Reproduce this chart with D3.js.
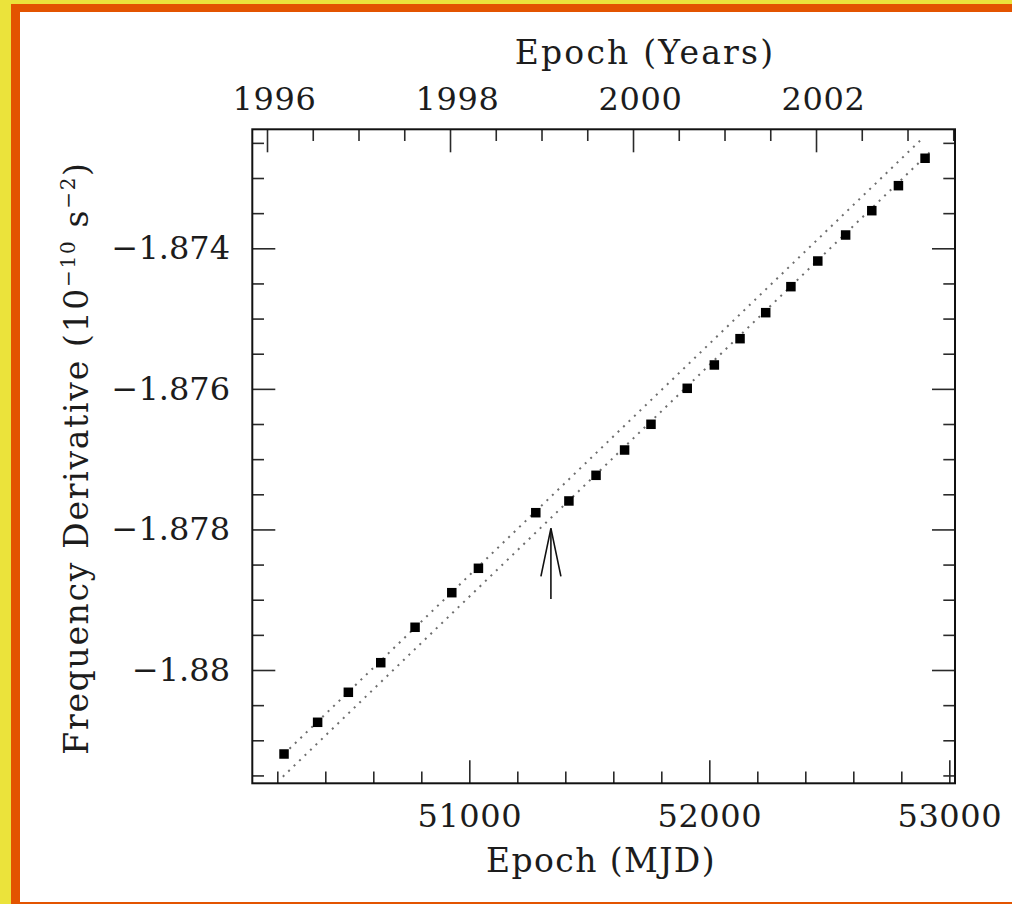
<!DOCTYPE html>
<html>
<head>
<meta charset="utf-8">
<script src="https://cdn.jsdelivr.net/npm/d3@7"></script>
<style>
  html, body { margin: 0; padding: 0; background: #ffffff; }
  svg { display: block; }
  text { font-family: "DejaVu Serif", "Liberation Serif", serif; fill: #1c1c1c; }
</style>
</head>
<body>
<script>
// Timing measurements of the frequency derivative, one per epoch (MJD)
const epochMJD = [50228, 50368, 50496, 50631, 50774, 50927, 51038, 51277, 51415, 51528, 51647,
                  51757, 51908, 52021, 52128, 52235, 52340, 52452, 52568, 52677, 52788, 52899];
const freqDeriv = [-1.881195, -1.880744, -1.880317, -1.879896, -1.879392, -1.878900, -1.878553,
                   -1.877762, -1.877595, -1.877230, -1.876870, -1.876504, -1.875992, -1.875660,
                   -1.875286, -1.874916, -1.874546, -1.874181, -1.873811, -1.873465, -1.873109,
                   -1.872719];

// Two parallel linear trends (before and after the step)
const upperLineMJD = [50228, 52878];
const upperLineVal = [-1.881195, -1.872469];
const lowerLineMJD = [50223, 52928];
const lowerLineVal = [-1.881518, -1.872602];

// Arrow marking the epoch of the step: tail value, tip value
const arrowMJD = 51340;
const arrowVal = [-1.878990, -1.877984];

// Axis ticks and labels
const mjdMajorTicks = [51000, 52000, 53000];
const mjdTickLabels = ["51000", "52000", "53000"];
const yearMajorTicks = [1996, 1998, 2000, 2002];
const yearTickLabels = ["1996", "1998", "2000", "2002"];
const yMajorTicks = [-1.874, -1.876, -1.878, -1.88];
const yTickLabels = ["\u22121.874", "\u22121.876", "\u22121.878", "\u22121.88"];

const W = 1012, H = 904;
const box = { left: 252.3, right: 955, top: 129.3, bottom: 783.3 };

const svg = d3.select("body").append("svg").attr("width", W).attr("height", H);

// Page frame: yellow outer, orange inner, white panel
svg.append("rect").attr("x", 0).attr("y", 0).attr("width", W).attr("height", H).attr("fill", "#ebe33b");
svg.append("rect").attr("x", 11).attr("y", 4).attr("width", W - 11).attr("height", H - 4).attr("fill", "#e35400");
svg.append("rect").attr("x", 20).attr("y", 12).attr("width", W - 20).attr("height", 890).attr("fill", "#ffffff");

// Scales
const x = d3.scaleLinear().domain([50095.8, 53023.7]).range([box.left, box.right]);
const xYear = d3.scaleLinear().domain([1995.8393, 2003.519]).range([box.left, box.right]);
const y = d3.scaleLinear().domain([-1.881612, -1.872307]).range([box.bottom, box.top]);

const majorLen = 23, minorLen = 11.7;
const tickColor = "#2a2a2a";

function styleTicks(g, width) {
  g.select(".domain").remove();
  g.selectAll(".tick line").attr("stroke", tickColor).attr("stroke-width", width);
}
function styleLabels(g) {
  g.selectAll(".tick text")
    .attr("font-size", 32).attr("fill", "#1c1c1c")
    .attr("font-family", '"DejaVu Serif", serif')
    .attr("letter-spacing", 0.6);
}

// Bottom axis (MJD)
const mjdMinor = d3.range(50200, 53001, 200).filter(v => !mjdMajorTicks.includes(v));
svg.append("g").attr("transform", `translate(0,${box.bottom})`)
  .call(d3.axisBottom(x).tickValues(mjdMinor).tickSize(-minorLen).tickFormat(""))
  .call(g => styleTicks(g, 1.6));
svg.append("g").attr("transform", `translate(0,${box.bottom})`)
  .call(d3.axisBottom(x).tickValues(mjdMajorTicks).tickSizeInner(-majorLen).tickSizeOuter(0)
        .tickPadding(21).tickFormat((d, i) => mjdTickLabels[i]))
  .call(g => { styleTicks(g, 1.6); styleLabels(g); });

// Top axis (calendar years)
const yearMinor = d3.range(1996, 2003.6, 0.5).filter(v => !yearMajorTicks.includes(v));
svg.append("g").attr("transform", `translate(0,${box.top})`)
  .call(d3.axisTop(xYear).tickValues(yearMinor).tickSize(-minorLen).tickFormat(""))
  .call(g => styleTicks(g, 1.6));
svg.append("g").attr("transform", `translate(0,${box.top})`)
  .call(d3.axisTop(xYear).tickValues(yearMajorTicks).tickSizeInner(-majorLen).tickSizeOuter(0)
        .tickPadding(19).tickFormat((d, i) => yearTickLabels[i]))
  .call(g => {
    styleTicks(g, 1.6);
    styleLabels(g);
    g.selectAll(".tick text").attr("dx", 7);
  });

// Left and right axes (frequency derivative)
const yMinor = d3.range(-1.8815, -1.87249, 0.0005).map(v => +v.toFixed(4))
  .filter(v => !yMajorTicks.some(m => Math.abs(m - v) < 1e-7));
svg.append("g").attr("transform", `translate(${box.left},0)`)
  .call(d3.axisLeft(y).tickValues(yMinor).tickSize(-minorLen).tickFormat(""))
  .call(g => styleTicks(g, 1.6));
svg.append("g").attr("transform", `translate(${box.left},0)`)
  .call(d3.axisLeft(y).tickValues(yMajorTicks).tickSizeInner(-majorLen).tickSizeOuter(0)
        .tickPadding(22.3).tickFormat((d, i) => yTickLabels[i]))
  .call(g => { styleTicks(g, 1.6); styleLabels(g); g.selectAll(".tick text").attr("letter-spacing", 0); });
svg.append("g").attr("transform", `translate(${box.right},0)`)
  .call(d3.axisRight(y).tickValues(yMinor).tickSize(-minorLen).tickFormat(""))
  .call(g => styleTicks(g, 1.6));
svg.append("g").attr("transform", `translate(${box.right},0)`)
  .call(d3.axisRight(y).tickValues(yMajorTicks).tickSize(-majorLen).tickFormat(""))
  .call(g => styleTicks(g, 1.6));

// Plot frame
svg.append("rect")
  .attr("x", box.left).attr("y", box.top)
  .attr("width", box.right - box.left).attr("height", box.bottom - box.top)
  .attr("fill", "none").attr("stroke", "#111").attr("stroke-width", 2);

// Dotted trend lines
const line = d3.line().x(d => x(d[0])).y(d => y(d[1]));
[[upperLineMJD, upperLineVal], [lowerLineMJD, lowerLineVal]].forEach(([mx, vy]) => {
  svg.append("path")
    .datum(mx.map((m, i) => [m, vy[i]]))
    .attr("d", line)
    .attr("fill", "none")
    .attr("stroke", "#6e6e6e")
    .attr("stroke-width", 2)
    .attr("stroke-dasharray", "2,5.6");
});

// Data points as filled squares
const sq = 9.5;
svg.append("g").selectAll("rect")
  .data(epochMJD.map((m, i) => [m, freqDeriv[i]]))
  .join("rect")
  .attr("x", d => x(d[0]) - sq / 2)
  .attr("y", d => y(d[1]) - sq / 2)
  .attr("width", sq).attr("height", sq)
  .attr("fill", "#000");

// Arrow pointing up at the step epoch
const ax = x(arrowMJD), tailY = y(arrowVal[0]), tipY = y(arrowVal[1]);
const wingDX = 10, wingDY = 48;
const arrow = svg.append("g").attr("stroke", "#111").attr("stroke-width", 1.6).attr("fill", "none");
arrow.append("line").attr("x1", ax).attr("y1", tailY).attr("x2", ax).attr("y2", tipY);
arrow.append("path")
  .attr("d", `M${ax - wingDX},${tipY + wingDY} L${ax},${tipY} L${ax + wingDX},${tipY + wingDY}`);

// Axis titles
svg.append("text")
  .attr("x", 645).attr("y", 64).attr("text-anchor", "middle").attr("font-size", 33)
  .attr("letter-spacing", 2.2)
  .text("Epoch (Years)");
svg.append("text")
  .attr("x", 601).attr("y", 872).attr("text-anchor", "middle").attr("font-size", 33)
  .attr("letter-spacing", 1.4)
  .text("Epoch (MJD)");

const yTitle = svg.append("text")
  .attr("transform", `translate(88,458) rotate(-90)`)
  .attr("text-anchor", "middle").attr("font-size", 33)
  .attr("letter-spacing", 1.7);
yTitle.append("tspan").text("Frequency Derivative (10");
yTitle.append("tspan").attr("font-size", 20).attr("dy", -13).text("\u221210");
yTitle.append("tspan").attr("dy", 13).text(" s");
yTitle.append("tspan").attr("font-size", 20).attr("dy", -13).text("\u22122");
yTitle.append("tspan").attr("dy", 13).text(")");
</script>
</body>
</html>
